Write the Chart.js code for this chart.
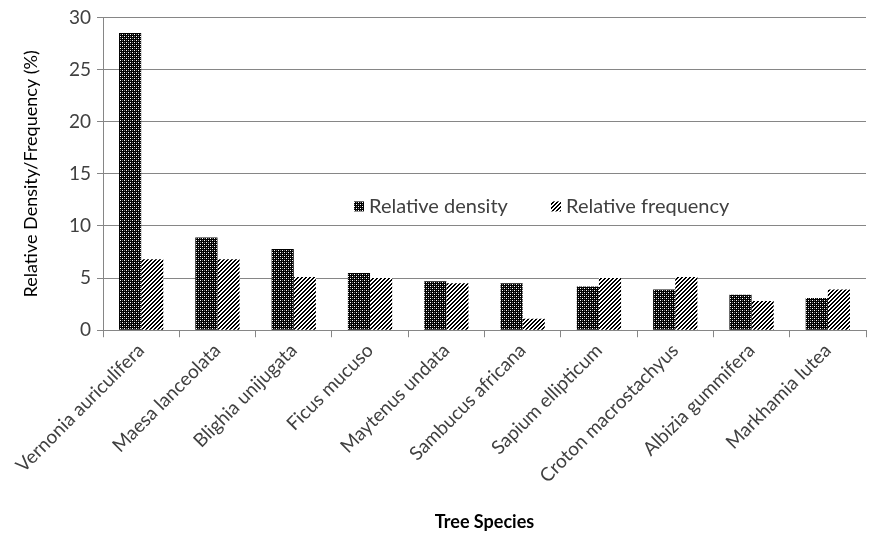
<!DOCTYPE html>
<html>
<head>
<meta charset="utf-8">
<script src="https://cdn.jsdelivr.net/npm/chart.js@4/dist/chart.umd.min.js"></script>
<style>
  html, body { margin: 0; padding: 0; background: #fff; }
  #wrap { width: 876px; height: 533px; }
</style>
</head>
<body>
<div id="wrap"><canvas id="barChart"></canvas></div>
<script>
// species and values
const species = ["Vernonia auriculifera", "Maesa lanceolata", "Blighia unijugata", "Ficus mucuso",
  "Maytenus undata", "Sambucus africana", "Sapium ellipticum", "Croton macrostachyus",
  "Albizia gummifera", "Markhamia lutea"];
const relDensity = [28.5, 8.9, 7.8, 5.5, 4.7, 4.5, 4.2, 3.9, 3.4, 3.1];
const relFrequency = [6.8, 6.8, 5.1, 5.0, 4.5, 1.1, 5.0, 5.1, 2.8, 3.9];
const yTicks = [0, 5, 10, 15, 20, 25, 30];

const FONT = "Lato, 'Open Sans', sans-serif";

// fill patterns like the excel hatches
function makePattern(kind) {
  const c = document.createElement("canvas");
  c.width = 4; c.height = 4;
  const g = c.getContext("2d");
  if (kind === "dots") {
    g.fillStyle = "#000";
    g.fillRect(0, 0, 4, 4);
    g.fillStyle = "#fff";
    g.fillRect(0, 0, 1, 1);
    g.fillRect(2, 2, 1, 1);
    g.fillStyle = "#777";
    g.fillRect(2, 0, 1, 1);
    g.fillRect(0, 2, 1, 1);
  } else {
    g.fillStyle = "#fff";
    g.fillRect(0, 0, 4, 4);
    g.fillStyle = "#000";
    for (let x = 0; x < 4; x++) {
      for (let y = 0; y < 4; y++) {
        if ((x + y) % 4 === 2 || (x + y) % 4 === 3) g.fillRect(x, y, 1, 1);
      }
    }
  }
  return g.createPattern(c, "repeat");
}

const densFill = makePattern("dots");
const freqFill = makePattern("stripes");

// legend drawn inside the plot area
const innerLegend = {
  id: "innerLegend",
  afterDraw(chart) {
    const ctx = chart.ctx;
    const a = chart.chartArea;
    const items = [
      { text: "Relative density", fill: densFill, x: a.left + 266 },
      { text: "Relative frequency", fill: freqFill, x: a.left + 463 }
    ];
    const y = a.top + 189;
    ctx.save();
    ctx.font = "20px " + FONT;
    ctx.textBaseline = "middle";
    items.forEach(it => {
      ctx.fillStyle = it.fill;
      ctx.fillRect(it.x - 15, y - 5, 10, 10);
      ctx.fillStyle = "#404040";
      ctx.fillText(it.text, it.x, y);
    });
    ctx.restore();
  }
};

new Chart(document.getElementById("barChart"), {
  type: "bar",
  data: {
    labels: species,
    datasets: [
      { label: "Relative density", data: relDensity, backgroundColor: densFill, borderWidth: 0 },
      { label: "Relative frequency", data: relFrequency, backgroundColor: freqFill, borderWidth: 0 }
    ]
  },
  options: {
    responsive: true,
    maintainAspectRatio: false,
    animation: false,
    categoryPercentage: 0.58,
    barPercentage: 1.0,
    layout: { padding: { top: 8, right: 10, left: 20, bottom: 0 } },
    plugins: {
      legend: { display: false },
      tooltip: { enabled: false }
    },
    scales: {
      x: {
        grid: { display: true, offset: true, drawOnChartArea: false, color: "#868686", tickLength: 7 },
        border: { color: "#868686" },
        ticks: { color: "#404040", font: { family: FONT, size: 19 }, minRotation: 45, maxRotation: 45, padding: 2 },
        title: { display: true, text: "Tree Species", color: "#000", font: { family: FONT, size: 18, weight: "bold" }, padding: { top: 22, bottom: 0 } }
      },
      y: {
        min: 0,
        max: 30,
        afterBuildTicks(axis) { axis.ticks = yTicks.map(v => ({ value: v })); },
        afterFit(axis) { axis.width = 83; },
        grid: { color: "#868686", tickLength: 6 },
        border: { color: "#868686" },
        ticks: { color: "#404040", font: { family: FONT, size: 19 }, padding: 6 },
        title: { display: true, text: "Relative Density/Frequency (%)", color: "#000", font: { family: FONT, size: 18 }, padding: { top: 0, bottom: 8 } }
      }
    }
  },
  plugins: [innerLegend]
});
</script>
</body>
</html>
